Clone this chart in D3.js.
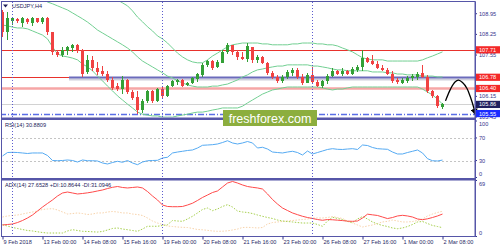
<!DOCTYPE html>
<html>
<head>
<meta charset="utf-8">
<script src="https://cdn.jsdelivr.net/npm/d3@7"></script>
<style>
  body { margin: 0; background: #fff; }
  svg { display: block; }
  text { font-family: "Liberation Sans", Arial, sans-serif; }
</style>
</head>
<body>
<div id="chart"></div>
<script>
const W = 500, H = 250;

// time axis (bar index of each label)
const tickBars = [0, 8, 16, 24, 32, 40, 48, 56, 64, 72, 80, 88];
const tickLabels = ["9 Feb 2018", "13 Feb 00:00", "14 Feb 08:00", "15 Feb 16:00", "19 Feb 00:00",
  "20 Feb 08:00", "21 Feb 16:00", "23 Feb 00:00", "26 Feb 08:00", "27 Feb 16:00", "1 Mar 00:00", "2 Mar 08:00"];
const weekStarts = [2, 32, 62];

// USDJPY H4 candles
const open = [108.98,108.30,108.70,108.76,108.62,108.74,108.62,108.78,108.66,108.78,
  108.30,107.62,107.55,107.66,107.78,107.88,107.70,106.95,107.35,107.10,
  106.98,106.90,106.70,106.50,106.38,106.70,106.28,106.10,105.66,105.98,
  106.30,105.98,106.38,106.15,106.48,106.62,106.68,106.52,106.58,106.72,
  106.85,107.18,107.32,107.12,107.28,107.62,107.86,107.62,107.48,107.40,
  107.80,107.36,107.48,107.28,106.92,106.80,106.64,106.80,106.94,107.04,
  106.80,106.60,106.85,106.62,106.48,106.65,106.82,107.00,106.88,107.00,
  106.90,107.02,107.12,107.42,107.32,107.24,107.10,107.04,106.90,106.70,
  106.60,106.66,106.74,106.78,106.92,106.80,106.32,106.14,105.76];
const high = [109.05,109.00,108.82,108.80,108.82,108.78,108.82,108.80,108.82,108.82,
  108.32,107.72,107.80,107.85,107.92,107.92,107.75,107.55,107.50,107.30,
  107.15,106.98,106.78,106.58,106.82,106.72,106.35,106.30,106.06,106.35,
  106.36,106.42,106.45,106.52,106.70,106.72,106.72,106.62,106.80,106.92,
  107.25,107.38,107.38,107.35,107.70,107.94,107.88,107.72,107.64,107.95,
  107.82,107.54,107.50,107.30,107.00,106.85,106.86,107.02,107.10,107.08,
  106.88,106.92,107.12,106.68,106.70,106.88,107.08,107.04,107.08,107.02,
  107.12,107.20,107.70,107.47,107.54,107.34,107.18,107.10,106.98,106.76,
  106.76,106.82,106.88,106.96,107.20,106.84,106.36,106.18,105.92];
const low = [108.15,108.05,108.55,108.62,108.48,108.60,108.50,108.62,108.60,108.22,
  107.52,107.45,107.45,107.55,107.62,107.60,106.78,106.90,107.00,106.85,
  106.82,106.62,106.35,106.32,106.22,106.20,106.00,105.53,105.58,105.90,
  105.92,105.95,106.08,106.10,106.44,106.52,106.45,106.48,106.56,106.62,
  106.80,107.12,107.02,107.08,107.25,107.58,107.55,107.38,107.35,107.30,
  107.28,107.28,107.22,106.85,106.72,106.58,106.60,106.72,106.82,106.72,
  106.52,106.58,106.55,106.44,106.42,106.55,106.78,106.85,106.82,106.85,
  106.86,106.96,106.98,107.25,107.18,107.05,106.98,106.84,106.58,106.55,
  106.56,106.60,106.66,106.68,106.76,106.26,106.08,105.74,105.70];
const close = [108.30,108.80,108.78,108.68,108.78,108.66,108.80,108.66,108.78,108.30,
  107.62,107.55,107.70,107.80,107.88,107.68,106.90,107.35,107.10,106.95,
  106.88,106.70,106.42,106.38,106.70,106.28,106.08,105.68,105.98,106.30,
  105.98,106.38,106.15,106.48,106.65,106.68,106.50,106.58,106.75,106.88,
  107.20,107.32,107.10,107.30,107.62,107.88,107.62,107.45,107.40,107.85,
  107.38,107.48,107.28,106.92,106.80,106.64,106.80,106.96,107.04,106.80,
  106.60,106.85,106.62,106.50,106.65,106.82,107.00,106.90,107.00,106.90,
  107.05,107.14,107.42,107.30,107.24,107.10,107.04,106.90,106.64,106.62,
  106.68,106.76,106.82,106.90,106.80,106.32,106.14,105.80,105.86];

// Bollinger bands
const bbUpper = [110.30,110.28,110.26,110.24,110.22,110.20,110.18,110.15,110.12,110.10,
  110.08,110.05,110.02,109.98,109.94,109.90,109.85,109.80,109.74,109.67,
  109.60,109.53,109.46,109.40,109.30,109.20,109.03,108.82,108.66,108.49,
  108.35,108.18,108.08,107.94,107.77,107.60,107.47,107.37,107.30,107.27,
  107.27,107.37,107.50,107.60,107.71,107.81,107.88,107.91,107.94,107.94,
  107.94,107.94,107.91,107.91,107.88,107.88,107.88,107.88,107.91,107.91,
  107.94,107.94,107.94,107.91,107.91,107.88,107.88,107.84,107.77,107.71,
  107.64,107.54,107.44,107.40,107.37,107.37,107.37,107.33,107.33,107.33,
  107.33,107.33,107.33,107.33,107.37,107.44,107.50,107.57,107.64];
const bbMiddle = [109.75,109.72,109.68,109.64,109.60,109.55,109.50,109.46,109.42,109.33,
  109.27,109.20,109.13,109.06,108.96,108.86,108.76,108.65,108.52,108.38,
  108.28,108.18,108.08,107.98,107.88,107.77,107.64,107.47,107.33,107.23,
  107.13,107.03,106.93,106.82,106.76,106.66,106.59,106.52,106.48,106.45,
  106.45,106.45,106.48,106.48,106.52,106.55,106.62,106.69,106.79,106.86,
  106.96,107.03,107.06,107.10,107.13,107.16,107.16,107.20,107.20,107.20,
  107.20,107.20,107.16,107.16,107.13,107.10,107.06,107.03,107.03,107.00,
  107.00,107.00,107.00,107.00,106.96,106.96,106.96,106.93,106.93,106.89,
  106.89,106.86,106.86,106.86,106.82,106.82,106.82,106.79,106.79];
const bbLower = [108.55,108.52,108.48,108.45,108.45,108.42,108.35,108.28,108.21,108.08,
  107.81,107.57,107.50,107.47,107.43,107.37,107.23,107.13,107.00,106.82,
  106.66,106.48,106.32,106.15,106.01,105.87,105.74,105.60,105.53,105.50,
  105.47,105.47,105.43,105.43,105.43,105.47,105.50,105.53,105.57,105.60,
  105.60,105.63,105.67,105.70,105.74,105.74,105.74,105.74,105.80,105.91,
  106.01,106.11,106.21,106.28,106.35,106.38,106.42,106.45,106.45,106.45,
  106.45,106.45,106.45,106.45,106.42,106.38,106.35,106.38,106.38,106.42,
  106.45,106.45,106.45,106.45,106.45,106.45,106.45,106.45,106.45,106.45,
  106.45,106.45,106.45,106.45,106.38,106.28,106.18,106.04,105.87];

// RSI(14)
const rsi = [38.1,44.2,44.6,44.2,43.4,42.5,43.4,43.4,43.4,38.9,
  30.1,29.7,30.1,31.0,30.1,27.4,31.0,29.7,29.7,29.2,
  25.7,23.9,26.5,28.7,26.9,30.1,25.7,22.7,27.4,29.7,
  30.1,30.4,34.5,35.8,43.4,45.1,46.4,47.8,48.7,52.2,
  57.0,57.5,58.1,59.3,61.9,65.1,61.1,59.3,61.1,63.7,
  61.1,52.2,53.5,50.4,45.1,44.2,43.4,45.1,46.4,44.2,
  39.8,46.9,41.6,44.2,46.9,49.6,51.0,49.9,49.6,50.4,
  51.0,49.6,57.5,56.6,53.1,51.0,50.4,49.9,45.1,41.6,
  41.6,44.2,46.4,48.7,43.4,33.3,29.7,29.2,30.8809];
const rsiTicks = [100, 70, 30, 0];
const rsiLevels = [70, 30];

// ADX(14)
const adx = [14.2,14.8,15.4,17.2,19.7,22.8,26.5,31.4,36.3,40.7,
  45.0,49.9,53.6,54.8,53.6,52.4,53.0,53.8,54.8,56.1,
  57.3,59.1,60.6,61.6,60.4,59.8,60.4,61.0,59.8,55.4,
  49.9,45.0,38.8,37.0,36.7,36.7,37.0,38.8,41.0,44.4,
  48.1,51.1,54.2,56.1,61.0,65.9,67.8,65.9,63.5,61.6,
  60.6,59.8,58.5,52.4,45.6,40.0,35.1,32.0,29.0,26.9,
  24.9,23.4,22.2,20.9,20.0,20.9,20.6,20.1,19.6,18.9,
  18.7,19.1,22.8,27.5,26.7,25.9,24.0,22.1,23.4,25.3,
  26.1,25.3,24.0,21.6,20.7,21.8,23.4,25.3,27.6528];
const plusDI = [14.5,12.9,11.1,9.9,8.6,7.4,6.8,5.8,4.9,4.3,
  4.3,4.3,4.3,6.8,8.4,7.4,6.4,6.2,5.8,5.5,
  6.2,8.0,9.9,10.5,9.2,8.4,7.4,6.4,9.2,12.6,
  12.6,12.6,13.6,14.5,19.7,19.1,18.7,21.6,24.9,29.0,
  33.3,35.1,31.8,33.9,37.0,39.2,36.3,31.4,30.2,29.6,
  28.3,26.5,24.9,23.4,22.2,20.3,19.1,18.5,17.9,17.2,
  16.6,16.6,16.6,14.8,12.6,19.1,23.7,22.2,20.9,18.5,
  17.2,21.6,24.6,21.6,17.9,15.4,13.6,12.3,10.5,9.6,
  10.5,12.3,14.8,17.9,18.5,16.0,13.6,12.3,10.8644];
const minusDI = [24.0,25.3,25.9,26.5,27.7,29.0,30.2,31.4,33.3,33.9,
  34.3,32.7,30.2,27.7,28.3,29.0,28.3,27.1,27.7,29.0,
  29.0,30.2,30.8,30.2,29.0,29.0,27.7,27.1,25.9,22.8,
  19.1,16.6,14.8,12.9,12.3,11.7,11.3,11.1,9.9,8.6,
  8.3,7.6,6.8,6.4,6.5,7.0,8.0,9.2,11.1,11.3,
  11.0,10.5,11.1,15.4,17.2,17.9,18.5,19.1,19.7,20.3,
  20.9,21.6,22.8,22.8,22.8,23.4,24.6,23.4,22.2,19.1,
  16.6,14.2,11.7,12.9,14.2,16.0,17.9,18.7,20.3,19.1,
  17.9,17.9,18.5,19.7,21.6,25.3,27.7,29.6,31.0946];
const adxTicks = [69, 0];

// price scale and levels (106.85 sits under the 106.78 tag, so it is not shown)
const priceTicks = [108.95, 108.25, 107.55, 106.15, 105.45];
const levelPrices = [107.71, 106.78, 106.40, 105.86, 105.55];
const levelKinds = ["red", "red", "pink", "bid", "dashdot"];
const zonePrice = 106.78, zoneStartBar = 13.3;
const tagPrices = [107.71, 106.78, 106.40, 105.86, 105.55];
const tagKinds = ["red", "red", "red", "navy", "blue"];

// forecast arrow (bar index, price)
const arrowBars = [88.6, 89.6, 90.5, 91.2, 92.0, 92.9, 93.6, 94.2, 94.6];
const arrowPrices = [105.98, 106.38, 106.62, 106.68, 106.60, 106.40, 106.10, 105.78, 105.52];

const svg = d3.select("#chart").append("svg")
  .attr("width", W)
  .attr("height", H);

const plotRight = 475;
const x = d3.scaleLinear().domain([0, 88]).range([2.5, 442.5]);
const y = d3.scaleLinear().domain([105.40, 109.33]).range([118, 2]);
const yRsi = d3.scaleLinear().domain([0, 100]).range([177.5, 121]);
const yAdx = d3.scaleLinear().domain([0, 69]).range([236.5, 180.5]);

const defs = svg.append("defs");
function clip(id, y0, y1) {
  defs.append("clipPath").attr("id", id).append("rect")
    .attr("x", 2).attr("y", y0).attr("width", plotRight - 2).attr("height", y1 - y0);
}
clip("cMain", 2, 117.5);
clip("cRsi", 120.5, 178.5);
clip("cAdx", 180.5, 236.5);

defs.append("marker")
  .attr("id", "arrowHead")
  .attr("viewBox", "0 -5 10 10")
  .attr("refX", 8)
  .attr("refY", 0)
  .attr("markerWidth", 7)
  .attr("markerHeight", 7)
  .attr("markerUnits", "userSpaceOnUse")
  .attr("orient", "auto")
  .append("path")
  .attr("d", "M0,-5L10,0L0,5Z")
  .attr("fill", "#000");

const bars = d3.range(open.length);
const main = svg.append("g").attr("clip-path", "url(#cMain)");

// horizontal levels
const levelStyle = {
  red: { stroke: "#e8322c", w: 1, dash: null },
  pink: { stroke: "#f6a6a6", w: 2.5, dash: null },
  bid: { stroke: "#d2d2d2", w: 1, dash: null },
  dashdot: { stroke: "#5a6ee6", w: 1.5, dash: "6,2,1,2" }
};
levelPrices.forEach((p, i) => {
  const s = levelStyle[levelKinds[i]];
  main.append("line")
    .attr("x1", 0).attr("x2", plotRight)
    .attr("y1", Math.round(y(p)) + 0.5).attr("y2", Math.round(y(p)) + 0.5)
    .attr("stroke", s.stroke)
    .attr("stroke-width", s.w)
    .attr("stroke-dasharray", s.dash);
});

// support zone line with shadow
const zy = Math.round(y(zonePrice));
main.append("line")
  .attr("x1", x(zoneStartBar)).attr("x2", plotRight)
  .attr("y1", zy + 2.5).attr("y2", zy + 2.5)
  .attr("stroke", "#cfcfdc").attr("stroke-width", 2);
main.append("line")
  .attr("x1", x(zoneStartBar)).attr("x2", plotRight)
  .attr("y1", zy + 0.5).attr("y2", zy + 0.5)
  .attr("stroke", "#6b6bbb").attr("stroke-width", 2);

// Bollinger bands
[bbUpper, bbMiddle, bbLower].forEach(band => {
  main.append("path")
    .datum(band)
    .attr("fill", "none")
    .attr("stroke", "#72cf92")
    .attr("stroke-width", 1)
    .attr("d", d3.line().x((d, i) => x(i)).y(d => y(d)));
});

// candles
const up = "#33a036", down = "#f04242";
const candle = main.selectAll(".candle")
  .data(bars)
  .enter().append("g")
  .attr("class", "candle")
  .attr("shape-rendering", "crispEdges");

candle.append("line")
  .attr("x1", i => x(i)).attr("x2", i => x(i))
  .attr("y1", i => y(high[i])).attr("y2", i => y(low[i]))
  .attr("stroke", i => close[i] >= open[i] ? up : down);

candle.append("rect")
  .attr("x", i => x(i) - 1.5)
  .attr("width", 3)
  .attr("y", i => y(Math.max(open[i], close[i])))
  .attr("height", i => Math.max(1, Math.abs(y(open[i]) - y(close[i]))))
  .attr("fill", i => close[i] >= open[i] ? up : down);

// forecast arrow
svg.append("path")
  .datum(arrowBars.map((b, i) => [b, arrowPrices[i]]))
  .attr("fill", "none")
  .attr("stroke", "#000")
  .attr("stroke-width", 1.3)
  .attr("marker-end", "url(#arrowHead)")
  .attr("d", d3.line().curve(d3.curveCatmullRom).x(d => x(d[0])).y(d => y(d[1])));

// RSI pane
const rsiG = svg.append("g").attr("clip-path", "url(#cRsi)");
rsiLevels.forEach(v => {
  rsiG.append("line")
    .attr("x1", 2).attr("x2", plotRight)
    .attr("y1", Math.round(yRsi(v)) + 0.5).attr("y2", Math.round(yRsi(v)) + 0.5)
    .attr("stroke", "#c4c4c4")
    .attr("stroke-dasharray", "2,2");
});
rsiG.append("path")
  .datum(rsi)
  .attr("fill", "none")
  .attr("stroke", "#55aaf2")
  .attr("stroke-width", 1)
  .attr("d", d3.line().x((d, i) => x(i)).y(d => yRsi(d)));

// ADX pane
const adxG = svg.append("g").attr("clip-path", "url(#cAdx)");
const adxLine = d3.line().x((d, i) => x(i)).y(d => yAdx(d));
adxG.append("path").datum(minusDI)
  .attr("fill", "none").attr("stroke", "#f7d2aa").attr("stroke-width", 1)
  .attr("stroke-dasharray", "1.5,1.5").attr("d", adxLine);
adxG.append("path").datum(plusDI)
  .attr("fill", "none").attr("stroke", "#a6cf4e").attr("stroke-width", 1)
  .attr("stroke-dasharray", "1.5,1.5").attr("d", adxLine);
adxG.append("path").datum(adx)
  .attr("fill", "none").attr("stroke", "#ff4a4a").attr("stroke-width", 1)
  .attr("d", adxLine);

// week separators
weekStarts.forEach(b => {
  svg.append("line")
    .attr("x1", x(b)).attr("x2", x(b))
    .attr("y1", 2).attr("y2", 236)
    .attr("stroke", "#5b5bd0")
    .attr("stroke-dasharray", "1,2");
});

// frames
const frame = "#5656a8";
svg.append("rect").attr("x", 1.5).attr("y", 1.5).attr("width", plotRight - 1.5).attr("height", 235)
  .attr("fill", "none").attr("stroke", frame).attr("stroke-width", 1);
svg.append("rect").attr("x", 1.5).attr("y", 117.5).attr("width", plotRight - 1.5).attr("height", 2.5).attr("fill", frame);
svg.append("rect").attr("x", 1.5).attr("y", 178).attr("width", plotRight - 1.5).attr("height", 2.5).attr("fill", frame);

// right price axis
const fs = 5.6;
const axisCol = "#33338c";
const yAxis = svg.append("g")
  .attr("transform", `translate(${plotRight},0)`)
  .call(d3.axisRight(y).tickValues(priceTicks).tickFormat(d3.format(".2f")).tickSize(2).tickPadding(2));
yAxis.select(".domain").remove();
yAxis.selectAll("line").attr("stroke", axisCol);
yAxis.selectAll("text").attr("font-size", fs).attr("fill", axisCol).attr("font-family", "Liberation Sans, Arial, sans-serif");

function sideLabel(txt, yy, top, bottom) {
  const cy = Math.max(top + 3.5, Math.min(bottom - 3.5, yy));
  svg.append("line").attr("x1", plotRight).attr("x2", plotRight + 2)
    .attr("y1", yy).attr("y2", yy).attr("stroke", axisCol);
  svg.append("text").attr("x", plotRight + 4).attr("y", cy).attr("dy", "0.35em")
    .attr("font-size", fs).attr("fill", axisCol).text(txt);
}
rsiTicks.forEach(v => sideLabel(d3.format("d")(v), yRsi(v), 121, 178));
adxTicks.forEach(v => sideLabel(d3.format("d")(v), yAdx(v), 180.5, 236.5));

// price tags
const tagFill = { red: "#f42828", navy: "#20205e", blue: "#1a2cff" };
tagPrices.forEach((p, i) => {
  svg.append("rect")
    .attr("x", plotRight + 1).attr("y", y(p) - 3.6)
    .attr("width", W - plotRight - 1).attr("height", 7.2)
    .attr("fill", tagFill[tagKinds[i]]);
  svg.append("text")
    .attr("x", plotRight + 4).attr("y", y(p)).attr("dy", "0.35em")
    .attr("font-size", fs).attr("fill", "#fff")
    .text(d3.format(".2f")(p));
});

// right axis line
svg.append("line")
  .attr("x1", plotRight + 0.5).attr("x2", plotRight + 0.5)
  .attr("y1", 1.5).attr("y2", 237)
  .attr("stroke", frame);

// time axis
const xAxis = svg.append("g")
  .attr("transform", "translate(0,236.5)")
  .call(d3.axisBottom(x).tickValues(tickBars).tickFormat((d, i) => tickLabels[i]).tickSize(3).tickPadding(1));
xAxis.select(".domain").remove();
xAxis.selectAll("line").attr("stroke", axisCol);
xAxis.selectAll("text")
  .attr("text-anchor", "start")
  .attr("x", 0.5)
  .attr("font-size", fs)
  .attr("fill", "#2b2b66")
  .attr("font-family", "Liberation Sans, Arial, sans-serif");

// pane titles
svg.append("path").attr("d", "M3,4.5L8,4.5L5.5,7.5Z").attr("fill", "#1e1e5a");
const title = (txt, ty) => svg.append("text")
  .attr("x", 5).attr("y", ty).attr("dy", "0.35em")
  .attr("font-size", fs).attr("fill", "#23235a").text(txt);
title("USDJPY,H4", 6).attr("x", 12);
title("RSI(14) " + d3.format(".4f")(rsi[rsi.length - 1]), 125);
title("ADX(14) " + d3.format(".4f")(adx[adx.length - 1]) + " +DI:" + d3.format(".4f")(plusDI[plusDI.length - 1]) +
  " -DI:" + d3.format(".4f")(minusDI[minusDI.length - 1]), 185);

// watermark
svg.append("rect")
  .attr("x", 223).attr("y", 110)
  .attr("width", 94).attr("height", 16)
  .attr("fill", "#8cae3e");
svg.append("text")
  .attr("x", 270).attr("y", 118).attr("dy", "0.36em")
  .attr("text-anchor", "middle")
  .attr("font-family", "Open Sans, sans-serif")
  .attr("font-size", 12.5)
  .attr("fill", "#fff")
  .text("freshforex.com");
</script>
</body>
</html>
